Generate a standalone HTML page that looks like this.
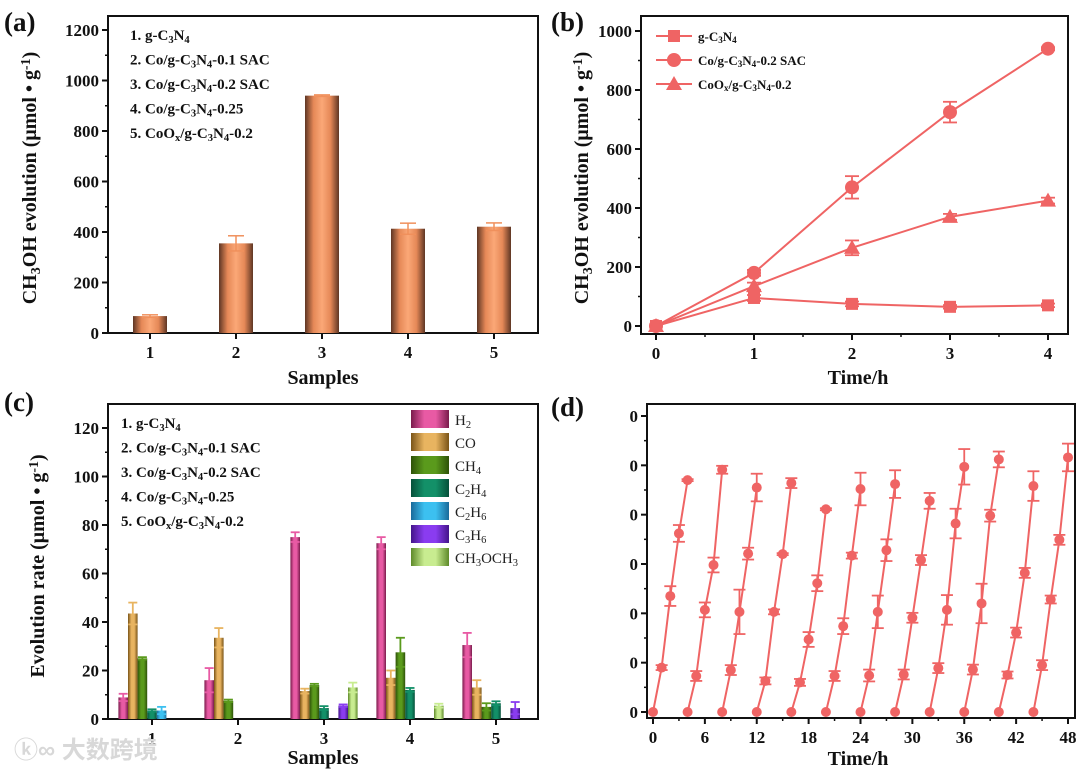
<!DOCTYPE html>
<html><head><meta charset="utf-8"><style>
body{margin:0;background:#fff;}
svg{display:block;font-family:"Liberation Serif",serif;font-weight:bold;}
</style></head><body>
<svg id="fig" width="1080" height="772" viewBox="0 0 1080 772" xmlns="http://www.w3.org/2000/svg">
<defs>
<linearGradient id="gOr" x1="0" x2="1"><stop offset="0" stop-color="#5e3624"/><stop offset="0.25" stop-color="#e58857"/><stop offset="0.5" stop-color="#fba877"/><stop offset="0.75" stop-color="#e58857"/><stop offset="1" stop-color="#5e3624"/></linearGradient>
</defs>
<g id="root"></g>
</svg>
<script>
// ---------- Panel (a) data ----------
const aCats = ["1","2","3","4","5"];
const aVals = [67, 355, 940, 413, 421];
const aErr = [5, 30, 3, 22, 15];
const aYTicks = [0,200,400,600,800,1000,1200];
// ---------- Panel (b) data ----------
const bTimes = [0,1,2,3,4];
const bG = [0, 95, 75, 65, 70];
const bGErr = [0, 10, 8, 6, 6];
const bSAC = [0, 180, 470, 725, 940];
const bSACErr = [0, 10, 38, 35, 5];
const bCoOx = [0, 135, 265, 370, 425];
const bCoOxErr = [0, 12, 25, 10, 10];
const bYTicks = [0,200,400,600,800,1000];
// ---------- Panel (c) data ----------
const cCats = ["1","2","3","4","5"];
const cH2 = [8.9, 16, 75, 72.5, 30.5];
const cCO = [43.5, 33.5, 11.5, 17, 13];
const cCH4 = [25, 7.5, 14, 27.5, 5];
const cC2H4 = [3.5, 0, 4.5, 12, 6.5];
const cC2H6 = [3.5, 0, 0, 0, 0];
const cC3H6 = [0, 0, 5.5, 0, 4.5];
const cDME = [0, 0, 13, 5.5, 0];
const cH2Err = [1.5, 5, 2, 2.5, 5];
const cCOErr = [4.5, 4, 1, 3, 3];
const cCH4Err = [0.5, 0.5, 0.5, 6, 1.5];
const cC2H4Err = [0.5, 0, 0.8, 0.8, 0.8];
const cC2H6Err = [1.5, 0, 0, 0, 0];
const cC3H6Err = [0, 0, 0.5, 0, 2.5];
const cDMEErr = [0, 0, 2, 0.8, 0];
const cYTicks = [0,20,40,60,80,100,120];
// ---------- Panel (d) data ----------
const dCycleVals = [
 [0,0.9,2.35,3.62,4.70],[0,0.73,2.07,2.98,4.91],[0,0.85,2.03,3.21,4.55],[0,0.63,2.03,3.20,4.64],
 [0,0.60,1.47,2.61,4.11],[0,0.73,1.74,3.17,4.52],[0,0.74,2.03,3.28,4.62],[0,0.76,1.91,3.08,4.28],
 [0,0.89,2.07,3.82,4.97],[0,0.86,2.20,3.98,5.12],[0,0.75,1.61,2.82,4.58],[0,0.95,2.28,3.49,5.16]];
const dCycleErr = [
 [0,0.05,0.2,0.17,0.02],[0,0.1,0.15,0.15,0.08],[0,0.1,0.45,0.12,0.28],[0,0.07,0.05,0.02,0.1],
 [0,0.07,0.15,0.16,0.02],[0,0.1,0.16,0.06,0.33],[0,0.12,0.33,0.22,0.28],[0,0.1,0.1,0.1,0.16],
 [0,0.1,0.3,0.3,0.36],[0,0.1,0.4,0.12,0.16],[0,0.07,0.1,0.1,0.3],[0,0.1,0.08,0.1,0.28]];
const dYTicks = [0,1,2,3,4,5,6];
const dXTicks = [0,6,12,18,24,30,36,42,48];

const NS="http://www.w3.org/2000/svg";
const root=document.getElementById('root');
function el(tag,attrs,parent){const e=document.createElementNS(NS,tag);for(const k in attrs)e.setAttribute(k,attrs[k]);(parent||root).appendChild(e);return e;}
function txt(x,y,s,size,anchor,parent){const t=el('text',{x:x,y:y,'font-size':size,'text-anchor':anchor||'start',fill:'#111'},parent);t.innerHTML=s;return t;}
function lin(d0,d1,r0,r1){return v=>r0+(v-d0)/(d1-d0)*(r1-r0);}
const RED="#ef6464";

function frame(name,L,T,R,B){
 const g=el('g',{});
 
 
 const r=el('rect',{x:L,y:T,width:R-L,height:B-T,fill:'none',stroke:'#111','stroke-width':2},g);
 
 
 return g;
}
function yAxis(g,L,ticks,ys,fmt,minor){
 const ax=el('g',{},g);
 
 
 ticks.forEach((v,i)=>{const y=ys(v);el('line',{x1:L-6,x2:L,y1:y,y2:y,stroke:'#111','stroke-width':2},ax);
  const t=txt(L-9,y+6,fmt?fmt(v):v,17,'end',ax);
  if(minor&&i<ticks.length-1){const ym=ys((v+ticks[i+1])/2);el('line',{x1:L-3,x2:L,y1:ym,y2:ym,stroke:'#111','stroke-width':1.5},ax);}});
}
function xAxis(g,B,ticks,xs,minor){
 const ax=el('g',{},g);
 
 
 ticks.forEach((v,i)=>{const x=xs(v);el('line',{x1:x,x2:x,y1:B,y2:B+6,stroke:'#111','stroke-width':2},ax);
  const t=txt(x,B+25,v,17,'middle',ax);
  if(minor&&i<ticks.length-1){const xm=xs((+v+ +ticks[i+1])/2);el('line',{x1:xm,x2:xm,y1:B,y2:B+3,stroke:'#111','stroke-width':1.5},ax);}});
}
function errBar(g,x,y0,y1,cw,color,w){
 el('line',{x1:x,x2:x,y1:y0,y2:y1,stroke:color,'stroke-width':w||1.5},g);
 el('line',{x1:x-cw,x2:x+cw,y1:y0,y2:y0,stroke:color,'stroke-width':w||1.5},g);
 el('line',{x1:x-cw,x2:x+cw,y1:y1,y2:y1,stroke:color,'stroke-width':w||1.5},g);
}
function sub(s){return '<tspan baseline-shift="-25%" font-size="0.7em">'+s+'</tspan>';}
function sup(s){return '<tspan baseline-shift="45%" font-size="0.7em">'+s+'</tspan>';}
const sampleLines=['1. g-C'+sub('3')+'N'+sub('4'),'2. Co/g-C'+sub('3')+'N'+sub('4')+'-0.1 SAC','3. Co/g-C'+sub('3')+'N'+sub('4')+'-0.2 SAC','4. Co/g-C'+sub('3')+'N'+sub('4')+'-0.25','5. CoO'+sub('x')+'/g-C'+sub('3')+'N'+sub('4')+'-0.2'];
function ylabel(x,y,html,g){const t=el('text',{x:0,y:0,'font-size':20,'text-anchor':'middle',fill:'#111',transform:`translate(${x},${y}) rotate(-90)`},g);t.innerHTML=html;}
function panelLabel(x,y,s){const t=txt(x,y,s,27,'start');}
const unitY='evolution (μmol • g'+sup('-1')+')';

// ===== Panel (a) =====
(function(){
 const L=108,T=16,R=538,B=333;
 const g=frame('panel-a',L,T,R,B);
 const ys=lin(0,1200,333,30);
 const xs=i=>150+i*86;
 yAxis(g,L,aYTicks,ys,null,true);
 xAxis(g,B,aCats,v=>xs(+v-1),false);
 aVals.forEach((v,i)=>{const x=xs(i);
  const b=el('rect',{x:x-17,y:ys(v),width:34,height:B-ys(v),fill:'url(#gOr)'},g);
  
  
  errBar(g,x,ys(v+aErr[i]),ys(v-aErr[i]),8,'#f0905c');});
 sampleLines.forEach((s,i)=>{const t=txt(130,40+i*24.5,s,15,'start',g);});
 const xt=txt(323,384,'Samples',20,'middle',g);
 ylabel(36,178,'CH'+sub('3')+'OH '+unitY,g);
})();
panelLabel(4,31,'(a)');

// ===== Panel (b) =====
(function(){
 const L=641,T=16,R=1068,B=334;
 const g=frame('panel-b',L,T,R,B);
 const ys=lin(0,1000,326,31);
 const xs=lin(0,4,656,1048);
 yAxis(g,L,bYTicks,ys,null,true);
 xAxis(g,B,bTimes,xs,true);
 const series=[[bG,bGErr,'square','g-C3N4'],[bSAC,bSACErr,'circle','co-sac'],[bCoOx,bCoOxErr,'triangle','coox']];
 function marker(gg,x,y,type){
  if(type==='square')el('rect',{x:x-6,y:y-6,width:12,height:12,fill:RED},gg);
  else if(type==='circle')el('circle',{cx:x,cy:y,r:7,fill:RED},gg);
  else el('polygon',{points:`${x},${y-8} ${x-8},${y+6} ${x+8},${y+6}`,fill:RED},gg);
 }
 series.forEach(([vals,err,type,nm])=>{
  const sg=el('g',{},g);
  
  
  el('polyline',{points:vals.map((v,i)=>xs(bTimes[i])+','+ys(v)).join(' '),fill:'none',stroke:RED,'stroke-width':2},sg);
  vals.forEach((v,i)=>{const x=xs(bTimes[i]);if(err[i]>0)errBar(sg,x,ys(v+err[i]),ys(v-err[i]),7,RED,1.8);marker(sg,x,ys(v),type);});
 });
 const labs=['g-C'+sub('3')+'N'+sub('4'),'Co/g-C'+sub('3')+'N'+sub('4')+'-0.2 SAC','CoO'+sub('x')+'/g-C'+sub('3')+'N'+sub('4')+'-0.2'];
 ['square','circle','triangle'].forEach((tp,i)=>{const y=36+i*24;const lg=el('g',{},g);
  
  
  el('line',{x1:656,x2:692,y1:y,y2:y,stroke:RED,'stroke-width':2},lg);marker(lg,674,y,tp);
  txt(698,y+5,labs[i],13,'start',lg);});
 const xt=txt(858,384,'Time/h',20,'middle',g);
 ylabel(588,178,'CH'+sub('3')+'OH '+unitY,g);
})();
panelLabel(551,31,'(b)');

// ===== Panel (c) =====
(function(){
 const L=108,T=404,R=538,B=719;
 const g=frame('panel-c',L,T,R,B);
 const ys=lin(0,120,719,428);
 const xs=i=>152+i*86;
 yAxis(g,L,cYTicks,ys,null,true);
 xAxis(g,B,cCats,v=>xs(+v-1),false);
 const ser=[[cH2,cH2Err,'#e85aa4','#7a1c4c','H'+sub('2'),'h2'],[cCO,cCOErr,'#e8b460','#7a5418','CO','co'],[cCH4,cCH4Err,'#5a9a1c','#2e5208','CH'+sub('4'),'ch4'],
  [cC2H4,cC2H4Err,'#139068','#06503a','C'+sub('2')+'H'+sub('4'),'c2h4'],[cC2H6,cC2H6Err,'#3cc0f0','#1a6a9a','C'+sub('2')+'H'+sub('6'),'c2h6'],
  [cC3H6,cC3H6Err,'#8a3cf0','#44158a','C'+sub('3')+'H'+sub('6'),'c3h6'],[cDME,cDMEErr,'#c8ec90','#5e8a2a','CH'+sub('3')+'OCH'+sub('3'),'ch3och3']];
 const defs=document.querySelector('defs');
 ser.forEach(([vals,err,c1,c2,lab,nm],k)=>{
  const gr=el('linearGradient',{id:'gc'+k,x1:0,x2:1},defs);
  el('stop',{offset:0,'stop-color':c2},gr);el('stop',{offset:0.35,'stop-color':c1},gr);el('stop',{offset:0.65,'stop-color':c1},gr);el('stop',{offset:1,'stop-color':c2},gr);
  const sg=el('g',{},g);
  
  
  vals.forEach((v,i)=>{if(v<=0)return;const x=xs(i)+(k-3)*9.6;
   const b=el('rect',{x:x-4.8,y:ys(v),width:9.6,height:B-ys(v),fill:'url(#gc'+k+')'},sg);
   
   
   if(err[i]>0)errBar(sg,x,ys(v+err[i]),ys(v-err[i]),4.5,c1,1.8);});
  const ly=410+k*23;
  const lg=el('g',{},g);
  
  
  el('rect',{x:411,y:ly,width:38,height:18,fill:'url(#gc'+k+')'},lg);
  const t=el('text',{x:455,y:ly+15,'font-size':15,'font-weight':'normal',fill:'#222'},lg);t.innerHTML=lab;
 });
 sampleLines.forEach((s,i)=>{const t=txt(121,428+i*24.5,s,15,'start',g);});
 const xt=txt(323,764,'Samples',20,'middle',g);
 ylabel(44,566,'Evolution rate (μmol • g'+sup('-1')+')',g);
})();
panelLabel(4,411,'(c)');

// ===== Panel (d) =====
(function(){
 const L=647,T=404,R=1075,B=718;
 const g=frame('panel-d',L,T,R,B);
 const ys=lin(0,6,712,416);
 const xs=lin(0,48,653,1068);
 yAxis(g,L,dYTicks,ys,()=>'0',true);
 xAxis(g,B,dXTicks,xs,true);
 dCycleVals.forEach((vals,c)=>{
  const sg=el('g',{},g);
  
  
  el('polyline',{points:vals.map((v,i)=>xs(c*4+i)+','+ys(v)).join(' '),fill:'none',stroke:RED,'stroke-width':2},sg);
  vals.forEach((v,i)=>{const x=xs(c*4+i);const e=dCycleErr[c][i];if(e>0)errBar(sg,x,ys(v+e),ys(v-e),6,RED,1.8);el('circle',{cx:x,cy:ys(v),r:5,fill:RED},sg);});
 });
 const xt=txt(858,765,'Time/h',20,'middle',g);
})();
panelLabel(551,416,'(d)');

const wm=el('text',{x:14,y:758,'font-size':24,fill:'#d8d8d8','font-family':'"Liberation Sans","Noto Sans CJK SC",sans-serif','font-weight':'bold'});
wm.textContent='ⓚ∞ 大数跨境';


</script>
</body></html>
